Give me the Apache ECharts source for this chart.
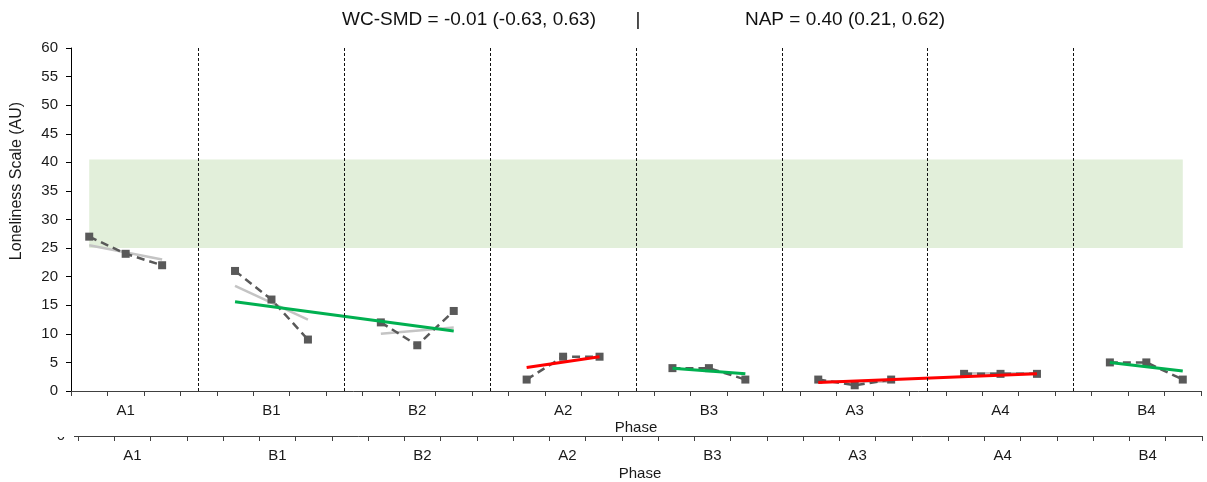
<!DOCTYPE html>
<html>
<head>
<meta charset="utf-8">
<script src="https://cdn.jsdelivr.net/npm/echarts@6/dist/echarts.min.js"></script>
<style>
  html, body { margin: 0; padding: 0; background: #fff; }
  #chart { width: 1207px; height: 482px; }
</style>
</head>
<body>
<div id="chart"></div>
<script>
// Phases in session order, three sessions each
const phases = ['A1', 'B1', 'B2', 'A2', 'B3', 'A3', 'A4', 'B4'];
const scores = [
  [27, 24, 22],
  [21, 16, 9],
  [12, 8, 14],
  [2, 6, 6],
  [4, 4, 2],
  [2, 1, 2],
  [3, 3, 3],
  [5, 5, 2]
];

// Per-phase fitted lines (null = not drawn)
const phaseFitFrom = [25.5, 18.4, 10.0, null, null, 1.7, 3.1, null];
const phaseFitTo = [23.0, 12.5, 11.1, null, null, 1.6, 3.1, null];

// Model trend lines: first and last phase covered, start and end values
const modelFitPhases = [[1, 2], [3, 3], [4, 4], [5, 6], [7, 7]];
const modelFitFrom = [15.6, 4.1, 4.0, 1.5, 5.0];
const modelFitTo = [10.5, 6.0, 3.0, 3.0, 3.5];

// Normative reference band
const normBand = [25, 40.5];

// Y axis scale
const yMin = 0, yMax = 60, yStep = 5;

// Effect-size header
const headerLeft = 'WC-SMD = -0.01 (-0.63, 0.63)';
const headerRight = 'NAP = 0.40 (0.21, 0.62)';

const FONT = "'Liberation Sans', Arial, sans-serif";
const SESSIONS = 3;
const SLOTS_PER_PHASE = SESSIONS + 1; // last slot holds the phase divider

// Category slots: three sessions per phase plus a divider slot between phases
const slots = [];
const values = [];
phases.forEach((p, i) => {
  scores[i].forEach((v, s) => { slots.push(p + ' s' + (s + 1)); values.push(v); });
  if (i < phases.length - 1) { slots.push(p + ' |'); values.push(null); }
});
const slotOf = (phase, session) => phase * SLOTS_PER_PHASE + session;
const dividerSlots = phases.slice(0, -1).map((p, i) => slotOf(i, SESSIONS));

const labelFormatter = (v, i) => (i % SLOTS_PER_PHASE === 1 ? phases[(i - 1) / SLOTS_PER_PHASE] : '');

function xAxisFor(gridIndex, nameGap) {
  return {
    gridIndex,
    type: 'category',
    data: slots,
    boundaryGap: true,
    axisLine: { lineStyle: { color: '#404040', width: 1 } },
    axisTick: { show: true, interval: 0, length: 5, lineStyle: { color: '#404040' } },
    axisLabel: { interval: 0, formatter: labelFormatter, margin: 12, fontSize: 15, color: '#1a1a1a', fontFamily: FONT },
    splitLine: { show: false },
    name: 'Phase',
    nameLocation: 'middle',
    nameGap,
    nameMoveOverlap: false,
    nameTextStyle: { fontSize: 15, color: '#1a1a1a', fontFamily: FONT }
  };
}

const series = [];

// Reference band and phase dividers
series.push({
  type: 'line', xAxisIndex: 0, yAxisIndex: 0, data: [], silent: true, z: 1,
  markArea: {
    silent: true,
    itemStyle: { color: '#E2EFDA' },
    data: [[{ xAxis: slots[0], yAxis: normBand[0] }, { xAxis: slots[slots.length - 1], yAxis: normBand[1] }]]
  },
  markLine: {
    silent: true, symbol: 'none', label: { show: false },
    lineStyle: { color: '#111', type: [3, 2], width: 1 },
    data: dividerSlots.map(i => ({ xAxis: slots[i] }))
  }
});

// Per-phase fitted lines (light grey)
phases.forEach((p, i) => {
  if (phaseFitFrom[i] === null) return;
  series.push({
    type: 'line', xAxisIndex: 0, yAxisIndex: 0, z: 2, silent: true,
    symbol: 'none',
    lineStyle: { color: '#C4C4C4', width: 2.5 },
    data: [[slotOf(i, 0), phaseFitFrom[i]], [slotOf(i, SESSIONS - 1), phaseFitTo[i]]]
  });
});

// Observed scores
series.push({
  type: 'line', xAxisIndex: 0, yAxisIndex: 0, z: 3,
  data: values,
  connectNulls: false,
  symbol: 'rect', symbolSize: 8,
  itemStyle: { color: '#595959' },
  lineStyle: { color: '#595959', width: 2.5, type: [8, 5] }
});

// Model trend lines: green for intervention (B), red for baseline (A)
modelFitPhases.forEach(([p0, p1], k) => {
  const isB = phases[p0].startsWith('B');
  series.push({
    type: 'line', xAxisIndex: 0, yAxisIndex: 0, z: 4, silent: true,
    symbol: 'none',
    lineStyle: { color: isB ? '#00B050' : '#FF0000', width: 3 },
    data: [[slotOf(p0, 0), modelFitFrom[k]], [slotOf(p1, SESSIONS - 1), modelFitTo[k]]]
  });
});

const chart = echarts.init(document.getElementById('chart'), null, { renderer: 'canvas' });
chart.setOption({
  animation: false,
  backgroundColor: '#fff',
  grid: [
    { left: 71, right: 6, top: 48, bottom: 91 },
    { left: 78, right: 5, top: 400, bottom: 42 }
  ],
  xAxis: [xAxisFor(0, 29), xAxisFor(1, 30)],
  yAxis: [
    {
      gridIndex: 0, type: 'value', min: yMin, max: yMax, interval: yStep,
      axisLine: { show: true, lineStyle: { color: '#000', width: 1 } },
      axisTick: { show: true, length: 5, lineStyle: { color: '#000' } },
      axisLabel: { margin: 13, fontSize: 15, color: '#1a1a1a', fontFamily: FONT },
      splitLine: { show: false }
    },
    {
      gridIndex: 1, type: 'value', min: 0, max: 1,
      axisLine: { show: false },
      axisTick: { show: true, length: 4, customValues: [0], lineStyle: { color: '#404040' } },
      axisLabel: { margin: 13, fontSize: 15, color: '#1a1a1a', fontFamily: FONT, customValues: [0] },
      splitLine: { show: false }
    }
  ],
  graphic: [
    { type: 'rect', z: 100, shape: { x: 40, y: 418, width: 32, height: 19 }, style: { fill: '#fff' } },
    { type: 'text', z: 100, x: 469, y: 20, style: { text: headerLeft, font: '19px ' + FONT, fill: '#111', align: 'center', verticalAlign: 'middle' } },
    { type: 'text', z: 100, x: 638, y: 20, style: { text: '|', font: '19px ' + FONT, fill: '#111', align: 'center', verticalAlign: 'middle' } },
    { type: 'text', z: 100, x: 845, y: 20, style: { text: headerRight, font: '19px ' + FONT, fill: '#111', align: 'center', verticalAlign: 'middle' } },
    { type: 'text', z: 100, x: 17, y: 181, rotation: Math.PI / 2, style: { text: 'Loneliness Scale (AU)', font: '16px ' + FONT, fill: '#1a1a1a', align: 'center', verticalAlign: 'middle' } }
  ],
  series
});
</script>
</body>
</html>
